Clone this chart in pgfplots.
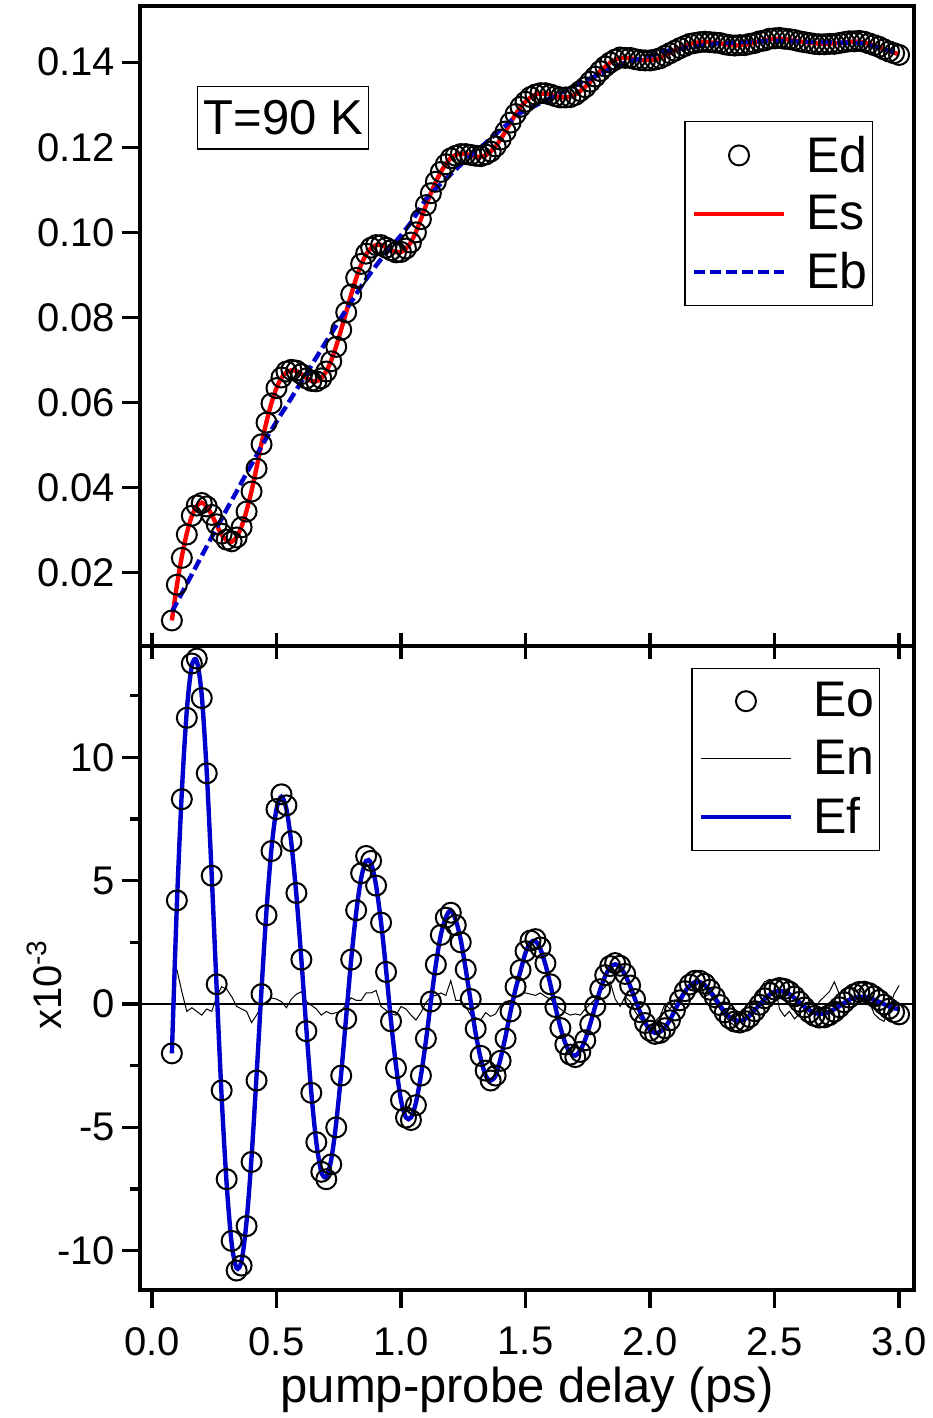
\documentclass[border=0pt]{standalone}
\usepackage{fontspec}
\setmainfont{Liberation Sans}
\usepackage{pgfplots}
\usepackage{pgfplotstable}
\pgfplotsset{compat=1.18}
\definecolor{myblue}{RGB}{0,0,205}
\definecolor{myred}{RGB}{255,0,0}

\pgfplotstableread{
t Eb Ed Es
0.08 0.0108 0.0088 0.0088
0.10 0.0130 0.0172 0.0170
0.12 0.0152 0.0235 0.0238
0.14 0.0174 0.0290 0.0293
0.16 0.0196 0.0334 0.0333
0.18 0.0218 0.0358 0.0357
0.20 0.0240 0.0364 0.0365
0.22 0.0262 0.0356 0.0356
0.24 0.0284 0.0336 0.0336
0.26 0.0306 0.0314 0.0312
0.28 0.0327 0.0292 0.0289
0.30 0.0349 0.0278 0.0276
0.32 0.0370 0.0274 0.0273
0.34 0.0391 0.0283 0.0284
0.36 0.0413 0.0307 0.0309
0.38 0.0434 0.0344 0.0346
0.40 0.0455 0.0391 0.0393
0.42 0.0476 0.0445 0.0447
0.44 0.0498 0.0502 0.0504
0.46 0.0517 0.0553 0.0555
0.48 0.0536 0.0598 0.0599
0.50 0.0555 0.0634 0.0634
0.52 0.0574 0.0659 0.0658
0.54 0.0592 0.0673 0.0671
0.56 0.0611 0.0677 0.0676
0.58 0.0630 0.0675 0.0674
0.60 0.0649 0.0667 0.0667
0.62 0.0668 0.0657 0.0658
0.64 0.0687 0.0651 0.0651
0.66 0.0706 0.0650 0.0650
0.68 0.0725 0.0657 0.0657
0.70 0.0744 0.0673 0.0674
0.72 0.0762 0.0697 0.0699
0.74 0.0781 0.0731 0.0733
0.76 0.0800 0.0771 0.0772
0.78 0.0818 0.0812 0.0813
0.80 0.0836 0.0854 0.0854
0.82 0.0855 0.0893 0.0892
0.84 0.0873 0.0926 0.0924
0.86 0.0890 0.0950 0.0948
0.88 0.0906 0.0964 0.0963
0.90 0.0922 0.0970 0.0970
0.92 0.0937 0.0970 0.0970
0.94 0.0951 0.0964 0.0965
0.96 0.0965 0.0958 0.0958
0.98 0.0979 0.0953 0.0954
1.00 0.0993 0.0954 0.0954
1.02 0.1008 0.0962 0.0962
1.04 0.1023 0.0976 0.0977
1.06 0.1041 0.1000 0.1001
1.08 0.1060 0.1031 0.1031
1.10 0.1078 0.1064 0.1063
1.12 0.1091 0.1092 0.1092
1.14 0.1103 0.1119 0.1119
1.16 0.1114 0.1142 0.1142
1.18 0.1125 0.1160 0.1160
1.20 0.1137 0.1174 0.1175
1.22 0.1148 0.1180 0.1182
1.24 0.1159 0.1184 0.1185
1.26 0.1170 0.1184 0.1184
1.28 0.1180 0.1182 0.1181
1.30 0.1190 0.1180 0.1178
1.32 0.1200 0.1179 0.1178
1.34 0.1210 0.1183 0.1181
1.36 0.1221 0.1190 0.1190
1.38 0.1231 0.1202 0.1202
1.40 0.1241 0.1218 0.1219
1.42 0.1251 0.1237 0.1238
1.44 0.1261 0.1258 0.1258
1.46 0.1271 0.1278 0.1277
1.48 0.1281 0.1295 0.1294
1.50 0.1286 0.1307 0.1307
1.52 0.1292 0.1318 0.1317
1.54 0.1298 0.1324 0.1324
1.56 0.1304 0.1327 0.1326
1.58 0.1310 0.1327 0.1326
1.60 0.1316 0.1324 0.1324
1.62 0.1321 0.1320 0.1320
1.64 0.1327 0.1317 0.1318
1.66 0.1333 0.1317 0.1317
1.68 0.1339 0.1318 0.1319
1.70 0.1345 0.1323 0.1324
1.72 0.1351 0.1332 0.1332
1.74 0.1356 0.1341 0.1342
1.76 0.1362 0.1354 0.1354
1.78 0.1367 0.1366 0.1366
1.80 0.1373 0.1379 0.1379
1.82 0.1378 0.1390 0.1389
1.84 0.1384 0.1399 0.1399
1.86 0.1389 0.1406 0.1405
1.88 0.1395 0.1411 0.1410
1.90 0.1398 0.1410 0.1410
1.92 0.1402 0.1410 0.1409
1.94 0.1405 0.1407 0.1407
1.96 0.1408 0.1405 0.1405
1.98 0.1412 0.1404 0.1405
2.00 0.1415 0.1404 0.1405
2.02 0.1418 0.1406 0.1406
2.04 0.1421 0.1409 0.1410
2.06 0.1425 0.1415 0.1416
2.08 0.1428 0.1421 0.1422
2.10 0.1430 0.1427 0.1428
2.12 0.1431 0.1433 0.1432
2.14 0.1433 0.1438 0.1438
2.16 0.1435 0.1443 0.1443
2.18 0.1436 0.1445 0.1445
2.20 0.1438 0.1447 0.1447
2.22 0.1440 0.1448 0.1448
2.24 0.1441 0.1447 0.1446
2.26 0.1443 0.1446 0.1446
2.28 0.1445 0.1445 0.1445
2.30 0.1445 0.1442 0.1442
2.32 0.1446 0.1440 0.1441
2.34 0.1446 0.1439 0.1439
2.36 0.1447 0.1440 0.1440
2.38 0.1447 0.1440 0.1441
2.40 0.1448 0.1443 0.1443
2.42 0.1448 0.1445 0.1446
2.44 0.1449 0.1449 0.1449
2.46 0.1449 0.1451 0.1451
2.48 0.1450 0.1455 0.1454
2.50 0.1450 0.1456 0.1455
2.52 0.1450 0.1457 0.1455
2.54 0.1449 0.1455 0.1454
2.56 0.1449 0.1454 0.1453
2.58 0.1449 0.1452 0.1451
2.60 0.1448 0.1449 0.1449
2.62 0.1448 0.1447 0.1447
2.64 0.1448 0.1445 0.1446
2.66 0.1448 0.1443 0.1445
2.68 0.1447 0.1442 0.1443
2.70 0.1447 0.1442 0.1443
2.72 0.1447 0.1443 0.1444
2.74 0.1446 0.1443 0.1444
2.76 0.1446 0.1445 0.1445
2.78 0.1446 0.1447 0.1446
2.80 0.1446 0.1449 0.1448
2.82 0.1445 0.1449 0.1448
2.84 0.1445 0.1450 0.1448
2.86 0.1443 0.1448 0.1446
2.88 0.1440 0.1444 0.1443
2.90 0.1437 0.1440 0.1439
2.92 0.1434 0.1436 0.1435
2.94 0.1430 0.1430 0.1430
2.96 0.1427 0.1425 0.1426
2.98 0.1424 0.1421 0.1422
3.00 0.1421 0.1417 0.1419
}\toptable

\pgfplotstableread{
t Eo Ef En
0.08 -2.0 -2.0 nan
0.10 4.2 4.0 1.4
0.12 8.3 8.6 0.5
0.14 11.6 11.9 -0.3
0.16 13.8 13.7 -0.15
0.18 14.0 13.9 -0.3
0.20 12.4 12.5 -0.45
0.22 9.35 9.4 -0.2
0.24 5.2 5.2 -0.3
0.26 0.8 0.6 0.3
0.28 -3.5 -3.8 0.7
0.30 -7.1 -7.3 0.6
0.32 -9.6 -9.7 0.3
0.34 -10.8 -10.7 -0.1
0.36 -10.6 -10.4 -0.2
0.38 -9.0 -8.8 -0.3
0.40 -6.4 -6.2 -0.75
0.42 -3.1 -2.9 -0.45
0.44 0.4 0.6 -0.1
0.46 3.6 3.8 0.1
0.48 6.2 6.3 0.25
0.50 7.9 7.9 0.2
0.52 8.5 8.4 0.1
0.54 8.05 7.9 -0.15
0.56 6.6 6.5 0.2
0.58 4.5 4.4 0.4
0.60 1.8 1.8 0.5
0.62 -1.1 -1.0 0.1
0.64 -3.6 -3.6 -0.05
0.66 -5.6 -5.6 -0.2
0.68 -6.8 -6.8 -0.45
0.70 -7.1 -7.0 -0.3
0.72 -6.5 -6.3 -0.4
0.74 -5.0 -4.8 -0.35
0.76 -2.9 -2.8 -0.3
0.78 -0.6 -0.5 0.0
0.80 1.8 1.8 0.25
0.82 3.8 3.7 0.15
0.84 5.3 5.1 0.15
0.86 6.0 5.8 0.45
0.88 5.8 5.7 0.45
0.90 4.8 4.8 0.55
0.92 3.3 3.3 -0.1
0.94 1.3 1.4 -0.25
0.96 -0.7 -0.7 -0.4
0.98 -2.6 -2.5 -0.45
1.00 -3.9 -3.9 -0.1
1.02 -4.6 -4.6 -0.2
1.04 -4.7 -4.6 -0.45
1.06 -4.1 -4.0 -0.65
1.08 -2.9 -2.9 -0.35
1.10 -1.4 -1.5 0.05
1.12 0.1 0.1 0.3
1.14 1.6 1.6 0.35
1.16 2.8 2.8 0.45
1.18 3.5 3.5 0.35
1.20 3.7 3.8 0.95
1.22 3.2 3.4 0.15
1.24 2.5 2.6 0.15
1.26 1.4 1.4 -0.1
1.28 0.2 0.1 -0.45
1.30 -1.0 -1.2 -0.55
1.32 -2.1 -2.2 -0.65
1.34 -2.7 -2.9 -0.35
1.36 -3.1 -3.1 -0.5
1.38 -2.9 -2.9 -0.4
1.40 -2.3 -2.2 -0.05
1.42 -1.4 -1.3 0.1
1.44 -0.3 -0.3 0.15
1.46 0.7 0.6 0.25
1.48 1.38 1.34 0.4
1.50 2.14 2.08 0.45
1.52 2.57 2.49 0.4
1.54 2.63 2.55 0.35
1.56 2.29 2.22 0.45
1.58 1.65 1.60 0.3
1.60 0.80 0.78 0.2
1.62 -0.12 -0.12 0.0
1.64 -0.97 -0.94 -0.2
1.66 -1.64 -1.59 -0.35
1.68 -2.05 -1.99 -0.45
1.70 -2.15 -2.09 -0.4
1.72 -1.94 -1.88 -0.45
1.74 -1.47 -1.43 -0.2
1.76 -0.82 -0.80 0.0
1.78 -0.09 -0.09 0.2
1.80 0.60 0.58 0.5
1.82 1.17 1.13 0.7
1.84 1.54 1.49 0.9
1.86 1.66 1.61 0.2
1.88 1.55 1.50 -0.1
1.90 1.22 1.18 0.3
1.92 0.75 0.73 0.1
1.94 0.20 0.19 -0.3
1.96 -0.33 -0.32 -0.6
1.98 -0.77 -0.75 -0.8
2.00 -1.08 -1.05 -0.9
2.02 -1.21 -1.17 -0.7
2.04 -1.17 -1.13 -0.5
2.06 -0.98 -0.95 0.0
2.08 -0.66 -0.64 -0.2
2.10 -0.26 -0.25 0.1
2.12 0.15 0.14 0.3
2.14 0.52 0.50 0.6
2.16 0.79 0.75 0.8
2.18 0.94 0.89 0.7
2.20 0.94 0.89 0.9
2.22 0.82 0.77 0.3
2.24 0.58 0.54 0.4
2.26 0.28 0.26 0.1
2.28 -0.04 -0.04 -0.2
2.30 -0.34 -0.32 -0.5
2.32 -0.58 -0.53 -0.7
2.34 -0.71 -0.65 -0.9
2.36 -0.75 -0.68 -0.6
2.38 -0.69 -0.62 -0.7
2.40 -0.53 -0.47 -0.3
2.42 -0.29 -0.25 0.2
2.44 -0.03 -0.03 0.6
2.46 0.23 0.20 0.9
2.48 0.45 0.38 1.0
2.50 0.59 0.49 0.8
2.52 0.65 0.53 -0.2
2.54 0.61 0.49 -0.5
2.56 0.50 0.40 -0.3
2.58 0.31 0.24 -0.6
2.60 0.09 0.07 -0.4
2.62 -0.14 -0.11 -0.2
2.64 -0.34 -0.25 -0.5
2.66 -0.48 -0.35 -0.3
2.68 -0.55 -0.40 0.1
2.70 -0.54 -0.39 0.3
2.72 -0.45 -0.32 0.5
2.74 -0.31 -0.21 0.9
2.76 -0.13 -0.09 0.4
2.78 0.07 0.05 0.6
2.80 0.26 0.17 0.7
2.82 0.40 0.25 0.5
2.84 0.49 0.29 0.6
2.86 0.50 0.29 0.4
2.88 0.44 0.25 0.1
2.90 0.31 0.17 -0.4
2.92 0.16 0.09 -0.6
2.94 -0.02 -0.01 -0.7
2.96 -0.19 -0.10 -0.2
2.98 -0.33 -0.17 0.4
3.00 -0.42 -0.21 0.75
}\bottable

\begin{document}
\begin{tikzpicture}
\useasboundingbox (-70pt,-64pt) rectangle (396pt,645pt);
\pgfplotsset{
  common/.style={
    scale only axis, width=387pt,
    xmin=-0.048, xmax=3.06,
    axis line style={line width=1.8pt},
    tick style={line width=1.6pt, black},
    major tick length=9pt,
    tick align=outside,
    tick label style={font=\fontsize{20}{24}\selectfont},
    legend cell align=left,
    legend style={draw=black, line width=0.6pt, inner sep=2pt,
      font=\fontsize{25}{30}\selectfont,
      nodes={inner ysep=5pt},
      /tikz/every odd column/.append style={nodes={inner xsep=6.5pt}},
      /tikz/every even column/.append style={nodes={inner xsep=0.5pt}},
      column sep=9.5pt},
    legend image code/.code={\draw[mark repeat=2,mark phase=2,##1] plot coordinates {(0pt,0pt)(22.5pt,0pt)(45pt,0pt)};\path[draw=none,mark=none] (-2.5pt,0pt) circle (0pt);},
  },
  circ/.style={only marks, mark=o, mark size=5pt, black, mark options={line width=1pt}},
}
% ---------- bottom panel ----------
\begin{axis}[common, at={(0,0)}, anchor=south west, height=322pt,
  ymin=-11.59, ymax=14.51,
  xtick={0,0.5,1,1.5,2,2.5,3}, xticklabels={0.0,0.5,1.0,1.5,2.0,2.5,3.0},
  xticklabel style={yshift=-6pt},
  xtick pos=bottom, ytick pos=left,
  ytick={-10,-5,0,5,10}, yticklabels={-10,-5,0,5,10},
  minor ytick={-7.5,-2.5,2.5,7.5,12.5}, minor tick length=5pt,
  xlabel={pump-probe delay (ps)},
  xlabel style={font=\fontsize{24.5}{29}\selectfont, yshift=1pt},
  ylabel={x10\textsuperscript{-3}},
  ylabel style={at={(rel axis cs:-0.123,0.474)}, anchor=center, rotate=0,
    font=\fontsize{20}{24}\selectfont},
  legend style={at={(0.956,0.966)}, anchor=north east},
]
\addplot[black, line width=1pt, forget plot] coordinates {(-0.048,0) (3.06,0)};
\addplot[circ] table[x=t, y=Eo] {\bottable};
\addlegendentry{Eo}
\addplot[black, line width=0.5pt] table[x=t, y=En] {\bottable};
\addlegendentry{En}
\addplot[myblue, line width=2.2pt, smooth] table[x=t, y=Ef] {\bottable};
\addlegendentry{Ef}
\end{axis}
% ---------- boundary ticks ----------
\begin{axis}[at={(0,0)}, anchor=south west, scale only axis, width=387pt, height=322pt,
  xmin=-0.048, xmax=3.06, ymin=0, ymax=1,
  hide y axis, axis x line*=top,
  axis line style={line width=1.8pt},
  tick style={line width=1.6pt, black},
  tick align=center, major tick length=13pt,
  xtick={0,0.5,1,1.5,2,2.5,3}, xticklabels={},
]
\end{axis}
% ---------- top panel ----------
\begin{axis}[common, at={(0,322pt)}, anchor=south west, height=320pt,
  ymin=0.0028, ymax=0.1532,
  xmajorticks=false, ytick pos=left,
  ytick={0.02,0.04,0.06,0.08,0.10,0.12,0.14},
  yticklabels={0.02,0.04,0.06,0.08,0.10,0.12,0.14},
  legend style={at={(0.947,0.820)}, anchor=north east},
]
\addplot[circ] table[x=t, y=Ed] {\toptable};
\addlegendentry{Ed}
\addplot[myred, line width=2.2pt, smooth] table[x=t, y=Es] {\toptable};
\addlegendentry{Es}
\addplot[myblue, line width=2.2pt, dash pattern=on 5.5pt off 2.5pt] table[x=t, y=Eb] {\toptable};
\addlegendentry{Eb}
\node[draw=black, line width=0.6pt, inner xsep=3pt, inner ysep=7pt, fill=white,
  font=\fontsize{24.5}{29}\selectfont] at (rel axis cs:0.185,0.8255) {T=90 K};
\end{axis}
\end{tikzpicture}
\end{document}
